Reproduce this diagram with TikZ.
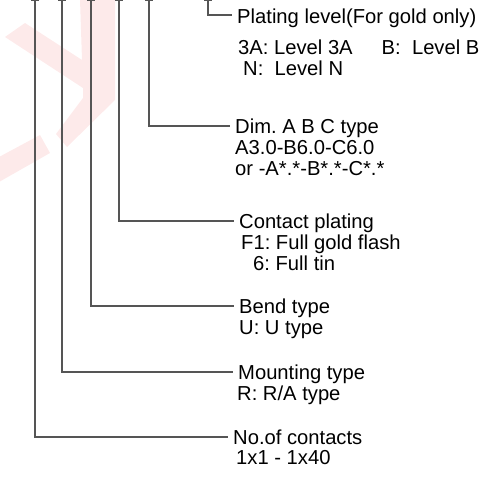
\documentclass[tikz,border=0pt]{standalone}
\usepackage{fontspec}
\setmainfont{Liberation Sans}
\usetikzlibrary{positioning}
\frenchspacing
\definecolor{ptGray}{HTML}{555555}
\definecolor{ptMark}{HTML}{FDEAEA}
\tikzset{
  ptlabel/.style={anchor=base west, inner xsep=5pt, inner ysep=0pt,
    text height=14.3pt, text depth=0pt, font=\fontsize{20.2}{21}\selectfont},
  ptleader/.style={line width=1.1pt, ptGray},
  ptwater/.style={fill=ptMark, draw=none}
}

\begin{document}
\begin{tikzpicture}[x=1pt, y=-1pt]
  \useasboundingbox (0,0) rectangle (485,478);
  % faint watermark behind the leaders
  \path[ptwater] (80,-1) -- (115,-1) -- (115,100) -- (67,147) -- (56,134)
    -- (83,98) -- (83,88) -- (5,37) -- (25,23) -- (82,60) -- cycle;
  \path[ptwater] (-1,157) -- (40,135) -- (50,153) -- (-1,182) -- cycle;
  % tops of the leaders
  \foreach \n/\x in {nc/35, mt/62, bt/91, cp/119, dim/149, pl/208}
    \coordinate (\n top) at (\x,0.6);
  % field titles
  \node[ptlabel, text height=18pt] (pl) at (232,24) {Plating level(For gold only)};
  \node[ptlabel] (dim) at (230,133.2) {Dim. A B C type};
  \node[ptlabel] (cp)  at (234,228.2) {Contact plating};
  \node[ptlabel] (bt)  at (234,313.2) {Bend type};
  \node[ptlabel] (mt)  at (233,379.2) {Mounting type};
  \node[ptlabel] (nc)  at (228,444.2) {No.of contacts};
  % field values
  \node[ptlabel] (plA)  at (233,54.2)  {3A: Level 3A\hspace{29pt}B:\ \ Level B};
  \node[ptlabel] (plN)  at (238,75.5)  {N:\ \ Level N};
  \node[ptlabel] (dimA) at (230,154.5) {A3.0-B6.0-C6.0};
  \node[ptlabel] (dimB) at (230,175.5) {or -A*.*-B*.*-C*.*};
  \node[ptlabel] (cpF)  at (236,249.5) {F1: Full gold flash};
  \node[ptlabel] (cpT)  at (248,270.5) {6: Full tin};
  \node[ptlabel] (btU)  at (234,334.5) {U: U type};
  \node[ptlabel] (mtR)  at (232,400.5) {R: R/A type};
  \node[ptlabel] (ncN)  at (231,464.5) {1x1 - 1x40};
  % leaders with their top ticks
  \foreach \n in {pl, dim, cp, bt, mt, nc} {
    \draw[ptleader] ([xshift=-4pt]\n top) -- ([xshift=4pt]\n top);
    \draw[ptleader] (\n top) |- (\n.west);
  }
\end{tikzpicture}
\end{document}
